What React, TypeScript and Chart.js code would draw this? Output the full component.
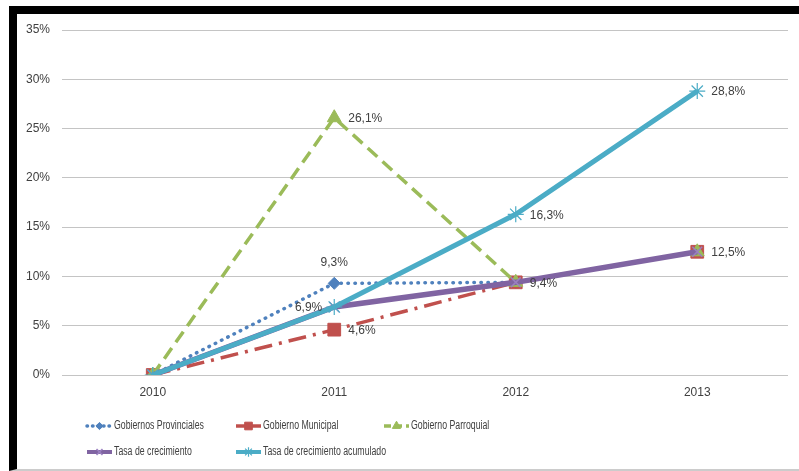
import React, { useEffect, useRef } from 'react';
import { Chart, registerables } from 'chart.js';
import { drawPoint } from 'chart.js/helpers';

Chart.register(...registerables);

const categories = ['2010', '2011', '2012', '2013'];
const provinciales = [0, 9.3, 9.4, 12.5];
const municipal = [0, 4.6, 9.4, 12.5];
const parroquial = [0, 26.1, 9.4, 12.5];
const tasaCrecimiento = [0, 6.9, 9.4, 12.5];
const tasaAcumulado = [0, 6.9, 16.3, 28.8];
const seriesNames = [
  'Gobiernos Provinciales',
  'Gobierno Municipal',
  'Gobierno Parroquial',
  'Tasa de crecimiento',
  'Tasa de crecimiento acumulado',
];
const yMin = 0;
const yMax = 35;
const yStep = 5;

// which points carry a value label: [datasetIndex, pointIndex, side]
const labelSpots: [number, number, string][] = [
  [0, 1, 'above'],
  [1, 1, 'right'],
  [2, 1, 'right'],
  [3, 1, 'left'],
  [3, 2, 'right'],
  [4, 2, 'right'],
  [4, 3, 'right'],
  [3, 3, 'right'],
];

const TEXT = '#404040';
const FONT = "'Liberation Sans', Arial, sans-serif";

const fmt = (v: number) => v.toFixed(1).replace('.', ',') + '%';

const labelPlugin = {
  id: 'valueLabels',
  afterDatasetsDraw(chart: any) {
    const ctx = chart.ctx;
    ctx.save();
    ctx.font = `12px ${FONT}`;
    ctx.fillStyle = TEXT;
    ctx.textBaseline = 'middle';
    labelSpots.forEach(([ds, idx, side]) => {
      const el = chart.getDatasetMeta(ds).data[idx];
      const v = chart.data.datasets[ds].data[idx];
      const t = fmt(v);
      if (side === 'right') {
        ctx.textAlign = 'left';
        ctx.fillText(t, el.x + 14, el.y + 1);
      } else if (side === 'left') {
        ctx.textAlign = 'right';
        ctx.fillText(t, el.x - 12, el.y + 1);
      } else {
        ctx.textAlign = 'center';
        ctx.fillText(t, el.x, el.y - 21);
      }
    });
    ctx.restore();
  },
};

const legendCols = [87, 236, 384];
const legendRows = [426, 452];

const legendPlugin = {
  id: 'gridLegend',
  afterDraw(chart: any) {
    const ctx = chart.ctx;
    chart.data.datasets.forEach((ds: any, i: number) => {
      const row = i < 3 ? 0 : 1;
      const col = i < 3 ? i : i - 3;
      const x = legendCols[col];
      const y = legendRows[row];
      const len = 25;
      ctx.save();
      ctx.strokeStyle = ds.borderColor;
      ctx.lineWidth = Math.min(ds.borderWidth, 4);
      ctx.lineCap = ds.borderCapStyle || 'butt';
      ctx.setLineDash(i === 0 ? [0.5, 5] : i === 2 ? [7, 4] : []);
      ctx.beginPath();
      ctx.moveTo(x, y);
      ctx.lineTo(x + len, y);
      ctx.stroke();
      ctx.restore();
      ctx.save();
      ctx.fillStyle = ds.pointBackgroundColor;
      ctx.strokeStyle = ds.pointBorderColor;
      ctx.lineWidth = ds.pointBorderWidth;
      drawPoint(ctx, { pointStyle: ds.pointStyle, radius: ds.pointRadius * 0.6, rotation: 0, borderWidth: ds.pointBorderWidth } as any, x + len / 2, y);
      ctx.restore();
      ctx.save();
      ctx.translate(x + len + 2, y);
      ctx.scale(0.7, 1);
      ctx.font = `12.5px ${FONT}`;
      ctx.fillStyle = TEXT;
      ctx.textBaseline = 'middle';
      ctx.textAlign = 'left';
      ctx.fillText(seriesNames[i], 0, 0);
      ctx.restore();
    });
  },
};

export default function App() {
  const ref = useRef<HTMLCanvasElement>(null);
  useEffect(() => {
    if (!ref.current) return;
    const chart = new Chart(ref.current, {
      type: 'line',
      data: {
        labels: categories,
        datasets: [
          {
            label: seriesNames[0],
            data: provinciales,
            borderColor: '#4F81BD',
            borderWidth: 3.5,
            borderDash: [0.5, 6.5],
            borderCapStyle: 'round',
            pointStyle: 'rectRot',
            pointRadius: 6,
            pointBackgroundColor: '#4F81BD',
            pointBorderColor: '#4F81BD',
            pointBorderWidth: 1,
            order: 4,
          },
          {
            label: seriesNames[1],
            data: municipal,
            borderColor: '#C0504D',
            borderWidth: 3.5,
            borderDash: [18, 7, 3, 7],
            borderCapStyle: 'butt',
            pointStyle: 'rect',
            pointRadius: 9,
            pointBackgroundColor: '#C0504D',
            pointBorderColor: '#C0504D',
            pointBorderWidth: 1,
            order: 3,
          },
          {
            label: seriesNames[2],
            data: parroquial,
            borderColor: '#9BBB59',
            borderWidth: 3.5,
            borderDash: [13, 7],
            borderCapStyle: 'butt',
            pointStyle: 'triangle',
            pointRadius: 8,
            pointBackgroundColor: '#9BBB59',
            pointBorderColor: '#9BBB59',
            pointBorderWidth: 1,
            order: 2,
          },
          {
            label: seriesNames[3],
            data: tasaCrecimiento,
            borderColor: '#8064A2',
            borderWidth: 5.5,
            borderCapStyle: 'butt',
            pointStyle: 'crossRot',
            pointRadius: 7,
            pointBackgroundColor: '#8064A2',
            pointBorderColor: '#9a80c0',
            pointBorderWidth: 1.5,
            order: 1,
          },
          {
            label: seriesNames[4],
            data: tasaAcumulado,
            borderColor: '#4BACC6',
            borderWidth: 5,
            borderCapStyle: 'butt',
            pointStyle: 'star',
            pointRadius: 8,
            pointBackgroundColor: '#4BACC6',
            pointBorderColor: '#4BACC6',
            pointBorderWidth: 1.2,
            order: 0,
          },
        ] as any,
      },
      options: {
        responsive: false,
        animation: false,
        layout: { padding: { left: 0, right: 11, top: 30, bottom: 66 } },
        plugins: {
          legend: { display: false },
          tooltip: { enabled: false },
        },
        scales: {
          x: {
            offset: true,
            grid: { display: false, drawTicks: false },
            border: { display: false },
            ticks: { color: TEXT, font: { family: FONT, size: 12 }, padding: 10 },
            afterFit: (s: any) => { s.height = 30; },
          },
          y: {
            min: yMin,
            max: yMax,
            grid: { color: '#c4c4c4', lineWidth: 1, drawTicks: false },
            border: { display: false },
            ticks: {
              stepSize: yStep,
              padding: 12,
              color: TEXT,
              font: { family: FONT, size: 12 },
              callback: (v: any) => v + '%',
            },
            afterFit: (s: any) => { s.width = 62; },
          },
        },
      } as any,
      plugins: [labelPlugin, legendPlugin],
    });
    return () => chart.destroy();
  }, []);

  return (
    <div style={{ position: 'fixed', left: 0, top: 0, width: 799, height: 471, background: '#fff', overflow: 'hidden' }}>
      <div
        style={{
          position: 'absolute',
          left: 9,
          top: 6,
          width: 790,
          height: 465,
          boxSizing: 'border-box',
          borderTop: '8px solid #000',
          borderLeft: '8px solid #000',
          borderBottom: '2px solid #cccccc',
        }}
      />
      <canvas ref={ref} width={799} height={471} style={{ position: 'absolute', left: 0, top: 0, width: 799, height: 471 }} />
    </div>
  );
}
